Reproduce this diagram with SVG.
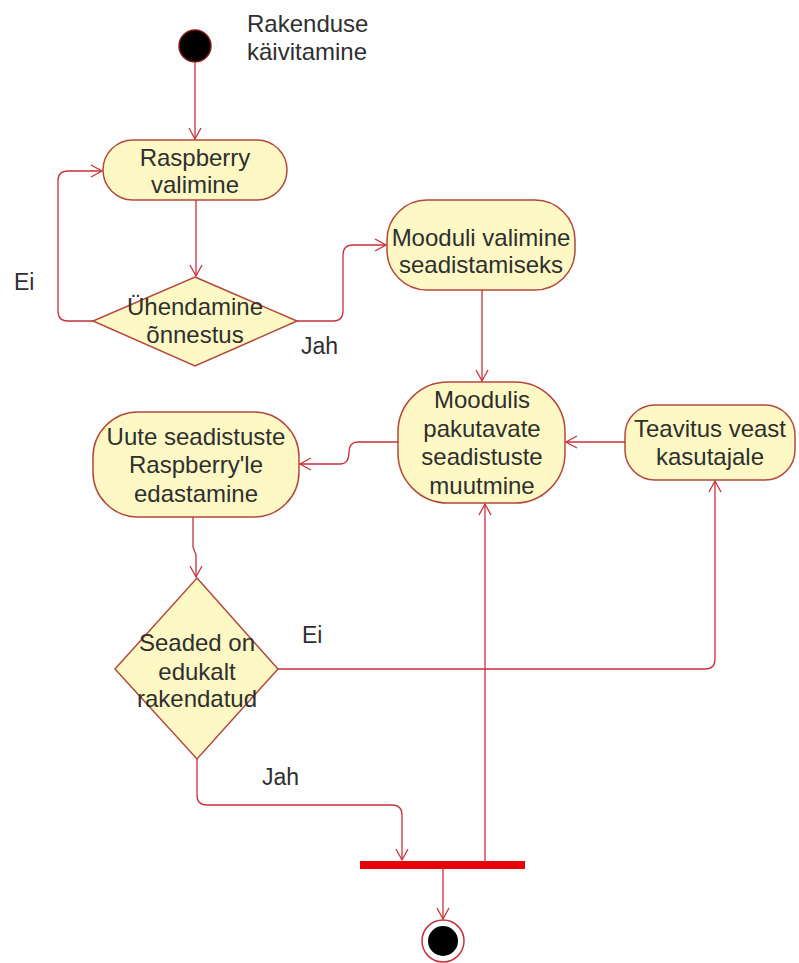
<svg xmlns="http://www.w3.org/2000/svg" width="799" height="963" viewBox="0 0 799 963">
<style>
.node{fill:#fdf8c4;stroke:#b5473c;stroke-width:1.5}
.t{font-family:"Liberation Sans",Arial,sans-serif;font-size:24px;fill:#2f2f2f;text-anchor:middle}
.lbl{font-family:"Liberation Sans",Arial,sans-serif;font-size:23px;fill:#2f2f2f}
.c{fill:none;stroke:#c8303c;stroke-width:1.3}
</style>
<defs>
<marker id="arr" markerWidth="14" markerHeight="14" refX="12" refY="7" orient="auto" markerUnits="userSpaceOnUse">
<path d="M1,1 L12,7 L1,13" fill="none" stroke="#c8303c" stroke-width="1.3"/>
</marker>
</defs>
<rect width="799" height="963" fill="#ffffff"/>

<g id="start">
<circle cx="195" cy="46" r="16" fill="#000" stroke="#8a1a1a" stroke-width="1.5"/>
<text class="lbl" x="247" y="32" style="font-size:24px">Rakenduse</text>
<text class="lbl" x="247" y="60" style="font-size:24px">käivitamine</text>
</g>

<g id="raspberry">
<rect class="node" x="103" y="140" width="184" height="60" rx="30"/>
<text class="t" x="195" y="166">Raspberry</text>
<text class="t" x="195" y="193">valimine</text>
</g>

<g id="uhendamine">
<polygon class="node" points="195,277 297,321 195,366 93,321"/>
<text class="t" x="195" y="315">Ühendamine</text>
<text class="t" x="195" y="343">õnnestus</text>
</g>

<g id="mooduli">
<rect class="node" x="387" y="200" width="188" height="90" rx="40"/>
<text class="t" x="481" y="246">Mooduli valimine</text>
<text class="t" x="481" y="273">seadistamiseks</text>
</g>

<g id="moodulis">
<rect class="node" x="398" y="382" width="167" height="121" rx="50"/>
<text class="t" x="482" y="408">Moodulis</text>
<text class="t" x="482" y="437">pakutavate</text>
<text class="t" x="482" y="465">seadistuste</text>
<text class="t" x="482" y="494">muutmine</text>
</g>

<g id="teavitus">
<rect class="node" x="625" y="405" width="170" height="75" rx="30"/>
<text class="t" x="710" y="437">Teavitus veast</text>
<text class="t" x="710" y="465">kasutajale</text>
</g>

<g id="uute">
<rect class="node" x="93" y="412" width="206" height="105" rx="45"/>
<text class="t" x="196" y="445">Uute seadistuste</text>
<text class="t" x="196" y="473">Raspberry'le</text>
<text class="t" x="196" y="502">edastamine</text>
</g>

<g id="seaded">
<polygon class="node" points="197,578 278,669 197,759 115,669"/>
<text class="t" x="197" y="651">Seaded on</text>
<text class="t" x="197" y="680">edukalt</text>
<text class="t" x="197" y="707">rakendatud</text>
</g>

<g id="bar">
<rect x="360" y="861" width="165" height="8" fill="#e8000b"/>
</g>

<g id="end">
<circle cx="443" cy="941" r="21" fill="#fff" stroke="#c8303c" stroke-width="1.5"/>
<circle cx="443" cy="941" r="15" fill="#000"/>
</g>

<g id="labels">
<text class="lbl" x="14" y="290">Ei</text>
<text class="lbl" x="301" y="354">Jah</text>
<text class="lbl" x="302" y="643">Ei</text>
<text class="lbl" x="262" y="785">Jah</text>
</g>

<g id="connectors">
<path class="c" d="M195,62 V139" marker-end="url(#arr)"/>
<path class="c" d="M196,200 V276" marker-end="url(#arr)"/>
<path class="c" d="M93,321 H68 Q58,321 58,311 V181 Q58,171 68,171 H102" marker-end="url(#arr)"/>
<path class="c" d="M297,321 H333 Q343,321 343,311 V255 Q343,245 353,245 H386" marker-end="url(#arr)"/>
<path class="c" d="M482,290 V381" marker-end="url(#arr)"/>
<path class="c" d="M625,442 H566" marker-end="url(#arr)"/>
<path class="c" d="M398,442 H358 Q349,442 349,452 Q349,464 340,464 H300" marker-end="url(#arr)"/>
<path class="c" d="M193,517 V547 L196,555 V577" marker-end="url(#arr)"/>
<path class="c" d="M278,669 H705 Q715,669 715,659 V481" marker-end="url(#arr)"/>
<path class="c" d="M197,759 V795 Q197,805 207,805 H392 Q402,805 402,815 V860" marker-end="url(#arr)"/>
<path class="c" d="M485,861 V504" marker-end="url(#arr)"/>
<path class="c" d="M443,869 V919" marker-end="url(#arr)"/>
</g>
</svg>
